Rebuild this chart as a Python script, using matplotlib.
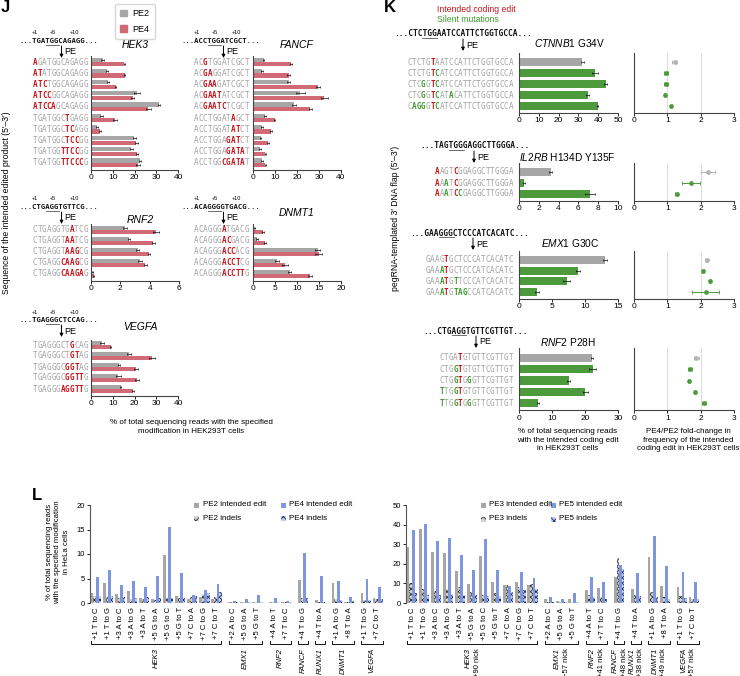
import numpy as np
import matplotlib
matplotlib.use('Agg')
import matplotlib.pyplot as plt
import matplotlib.transforms as mtransforms
from matplotlib.patches import Rectangle, FancyArrowPatch
from matplotlib.lines import Line2D

plt.rcParams['font.family'] = ['Liberation Sans', 'DejaVu Sans']
plt.rcParams['mathtext.fontset'] = 'custom'
plt.rcParams['mathtext.it'] = 'Liberation Sans:italic'
plt.rcParams['mathtext.rm'] = 'Liberation Sans'
plt.rcParams['hatch.linewidth'] = 0.6

# ---------------- panel J data ----------------
hek3_seqs = ['AGATGGCAGAGG', 'ATATGGCAGAGG', 'ATCTGGCAGAGG', 'ATCCGGCAGAGG', 'ATCCAGCAGAGG',
             'TGATGGCTGAGG', 'TGATGGCTCAGG', 'TGATGGCTCCGG', 'TGATGGTTCCGG', 'TGATGGTTCCCG']
hek3_edit = [(0, 1), (0, 2), (0, 3), (0, 4), (0, 5), (7, 8), (7, 9), (7, 10), (6, 10), (6, 11)]
hek3_pe2 = [5.3, 7.2, 7.8, 21.1, 31.4, 4.8, 2.7, 19.9, 18.6, 22.6]
hek3_pe4 = [15.4, 15.5, 11.3, 19.2, 26.4, 10.9, 4.2, 20.8, 21.1, 21.6]
hek3_pe2_err = [0.5, 0.4, 0.5, 1.2, 0.5, 0.6, 0.3, 0.8, 0.8, 0.6]
hek3_pe4_err = [0.4, 0.3, 0.3, 0.6, 1.0, 0.9, 0.3, 0.7, 0.6, 0.8]

fancf_seqs = ['ACGTGGATCGCT', 'ACGAGGATCGCT', 'ACGAAGATCGCT', 'ACGAATATCGCT', 'ACGAATCTCGCT',
              'ACCTGGATAGCT', 'ACCTGGATATCT', 'ACCTGGAGATCT', 'ACCTGGAGATAT', 'ACCTGGCGATAT']
fancf_edit = [(2, 3), (2, 4), (2, 5), (2, 6), (2, 7), (8, 9), (8, 10), (7, 10), (7, 11), (6, 11)]
fancf_pe2 = [4.8, 4.1, 16.2, 21.5, 18.5, 5.3, 4.1, 3.5, 3.2, 4.1]
fancf_pe4 = [17.3, 16.2, 29.5, 32.4, 26.0, 9.8, 8.2, 6.7, 5.6, 5.6]
fancf_pe2_err = [0.4, 0.4, 0.6, 2.0, 1.0, 0.4, 0.3, 0.3, 0.3, 0.4]
fancf_pe4_err = [0.5, 0.6, 0.8, 1.5, 0.6, 0.4, 0.4, 0.4, 0.3, 0.3]

rnf2_seqs = ['CTGAGGTGATCG', 'CTGAGGTAATCG', 'CTGAGGTAAGCG', 'CTGAGGCAAGCG', 'CTGAGGCAAGAG']
rnf2_edit = [(8, 9), (7, 9), (7, 10), (6, 10), (6, 11)]
rnf2_pe2 = [2.33, 2.6, 3.2, 3.35, 0.1]
rnf2_pe4 = [4.43, 4.25, 3.95, 3.7, 0.2]
rnf2_pe2_err = [0.15, 0.05, 0.1, 0.15, 0.03]
rnf2_pe4_err = [0.2, 0.1, 0.08, 0.1, 0.03]

dnmt1_seqs = ['ACAGGGATGACG', 'ACAGGGACGACG', 'ACAGGGACCACG', 'ACAGGGACCTCG', 'ACAGGGACCTTG']
dnmt1_edit = [(6, 7), (6, 8), (6, 9), (6, 10), (6, 11)]
dnmt1_pe2 = [0.3, 0.9, 14.7, 5.4, 8.3]
dnmt1_pe4 = [2.3, 2.8, 14.9, 7.3, 13.0]
dnmt1_pe2_err = [0.1, 0.2, 0.5, 0.5, 0.4]
dnmt1_pe4_err = [0.2, 0.2, 0.8, 0.6, 0.4]

vegfa_seqs = ['TGAGGGCTGCAG', 'TGAGGGCTGTAG', 'TGAGGGCGGTAG', 'TGAGGGCGGTTG', 'TGAGGGAGGTTG']
vegfa_edit = [(8, 9), (8, 10), (7, 10), (7, 11), (6, 11)]
vegfa_pe2 = [5.0, 17.5, 12.9, 12.6, 13.6]
vegfa_pe4 = [9.0, 27.9, 20.7, 21.0, 19.3]
vegfa_pe2_err = [0.8, 1.0, 0.5, 1.0, 0.3]
vegfa_pe4_err = [0.4, 1.3, 0.8, 0.9, 0.3]

# ---------------- panel K data ----------------
ctnnb1_seqs = ['CTCTGTAATCCATTCTGGTGCCA', 'CTCTGTCATCCATTCTGGTGCCA', 'CTCGGTCATCCATTCTGGTGCCA',
               'CTCGGTCATACATTCTGGTGCCA', 'CAGGGTCATCCATTCTGGTGCCA']
ctnnb1_mask = ['.....r', '.....rg', '...g.rg', '...g.rg..g', '.ggg.rg']
ctnnb1_vals = [32.0, 38.4, 43.8, 34.6, 39.7]
ctnnb1_err = [0.6, 1.5, 0.8, 0.9, 0.4]
ctnnb1_fold = [1.22, 0.96, 0.96, 0.93, 1.10]
ctnnb1_fold_err = [0.08, 0.07, 0.06, 0.04, 0.03]

il2rb_seqs = ['AAGTCGGAGGCTTGGGA', 'AAATCGGAGGCTTGGGA', 'AAATCCGAGGCTTGGGA']
il2rb_mask = ['r...r', 'r.g.r', 'r.g.rg']
il2rb_vals = [3.2, 0.5, 7.2]
il2rb_err = [0.15, 0.08, 0.5]
il2rb_fold = [2.22, 1.70, 1.28]
il2rb_fold_err = [0.2, 0.27, 0.04]

emx1_seqs = ['GAAGTGCTCCCATCACATC', 'GAAATGCTCCCATCACATC', 'GAAATGTTCCCATCACATC', 'GAAATGTAGCCATCACATC']
emx1_mask = ['....r', '...gr', '...gr.g', '...gr.ggg']
emx1_vals = [13.0, 8.9, 7.2, 2.7]
emx1_err = [0.3, 0.3, 0.5, 0.3]
emx1_fold = [2.18, 2.07, 2.28, 2.15]
emx1_fold_err = [0.04, 0.03, 0.04, 0.4]

rnf2k_seqs = ['CTGATGTGTTCGTTGT', 'CTGGTGTGTTCGTTGT', 'CTGGTGGGTTCGTTGT', 'TTGGTGTGTTCGTTGT', 'TTGGTGGGTTCGTTGT']
rnf2k_mask = ['....r', '...gr', '...gr.g', 'g..gr', 'g..gr.g']
rnf2k_vals = [22.1, 22.3, 15.0, 20.1, 5.8]
rnf2k_err = [0.4, 1.0, 0.6, 0.7, 0.3]
rnf2k_fold = [1.87, 1.67, 1.66, 1.83, 2.10]
rnf2k_fold_err = [0.08, 0.06, 0.03, 0.03, 0.07]

# ---------------- panel L data ----------------
l_cats = ['+1 T to C', '+1 T to G', '+3 A to C', '+3 A to G', '+3 A to T', '+5 G to A', '+5 G to C',
          '+5 G to T', '+7 C to A', '+7 C to G', '+7 C to T', '+2 A to C', '+5 G to A', '+5 G to T',
          '+4 A to T', '+7 T to C', '+4 T to G', '+4 T to A', '+1 A to G', '+8 T to A', '+1 T to G', '+7 C to T']
l_genes = ['HEK3', 'EMX1', 'RNF2', 'FANCF', 'RUNX1', 'DNMT1', 'VEGFA']
l_group_sizes = [11, 3, 2, 1, 1, 2, 2]
l_nicks = ['+90 nick', '\u221257 nick', '+41 nick', '+48 nick', '+38 nick', '+49 nick', '+57 nick']

pe2_edit = [2.1, 4.0, 1.8, 2.5, 1.1, 0.8, 9.8, 1.4, 0.9, 1.3, 0.8, 0.2, 0.2, 0.3, 0.2, 0.2, 4.7, 0.7, 4.0, 0.3, 2.0, 1.0]
pe2_indel = [1.5, 1.3, 1.0, 0.9, 0.8, 0.7, 1.0, 1.0, 1.2, 1.8, 1.2, 0.3, 0.3, 0.3, 0.2, 0.3, 1.0, 0.2, 0.8, 0.3, 0.6, 0.8]
pe4_edit = [5.3, 6.8, 3.7, 4.5, 3.2, 5.5, 15.5, 6.1, 1.6, 2.6, 3.8, 0.4, 0.8, 1.7, 1.1, 0.5, 10.3, 5.5, 4.5, 1.3, 4.9, 3.3]
pe4_indel = [1.5, 1.5, 1.2, 1.0, 1.3, 1.0, 1.0, 1.0, 1.5, 2.0, 2.3, 0.3, 0.3, 0.3, 0.2, 0.3, 1.0, 0.2, 0.6, 0.5, 0.6, 0.8]

pe3_edit = [28.7, 37.8, 25.8, 25.3, 16.1, 9.8, 24.2, 10.5, 9.0, 10.5, 9.0, 1.9, 0.8, 1.8, 6.5, 7.5, 13.5, 7.0, 23.3, 8.8, 8.0, 3.0]
pe3_indel = [10.2, 7.1, 6.3, 7.1, 8.1, 5.4, 4.2, 5.0, 9.0, 8.0, 9.5, 0.7, 0.7, 0.7, 4.0, 3.0, 23.0, 4.0, 5.5, 3.0, 3.5, 2.0]
pe5_edit = [37.0, 40.5, 31.7, 33.3, 24.5, 16.9, 32.8, 17.0, 8.5, 16.0, 13.0, 3.0, 2.2, 5.3, 13.5, 10.8, 19.5, 15.3, 34.0, 19.0, 15.7, 10.8]
pe5_indel = [5.1, 4.2, 3.9, 4.6, 4.2, 4.1, 3.4, 3.5, 5.8, 6.5, 7.3, 0.5, 0.7, 0.6, 3.0, 2.2, 17.5, 3.8, 3.0, 2.0, 2.5, 1.8]

# ---------------- style ----------------
GRAY = '#a6a6a6'
RED = '#d06a77'
BLUE = '#7e96dc'
GREEN = '#4c9a3c'
TXT_RED = '#c4161c'
TXT_GREEN = '#3f9b2e'
SEQ_GRAY = '#a3a3a3'
MONO = 'DejaVu Sans Mono'
EKW = dict(elinewidth=0.5, capsize=1, capthick=0.5, ecolor='#111111')

W, H = 740, 676
fig = plt.figure(figsize=(W / 100, H / 100), dpi=100)


def fx(px):
    return px / W


def fy(py):
    return 1 - py / H


def add_ax(l, t, r, b):
    return fig.add_axes([l / W, 1 - b / H, (r - l) / W, (b - t) / H])


def style_ax(ax, xmax, step):
    for s in ['top', 'right']:
        ax.spines[s].set_visible(False)
    for s in ['left', 'bottom']:
        ax.spines[s].set_linewidth(0.8)
        ax.spines[s].set_color('#444444')
    ax.set_xlim(0, xmax)
    ax.set_xticks(np.arange(0, xmax + 1, step))
    ax.set_yticks([])
    ax.tick_params(axis='x', labelsize=6, length=2, width=0.6, pad=1.5)


def draw_seq(ax, seq, mask, row, right_px, cw=4.6):
    trans = mtransforms.blended_transform_factory(fig.transFigure, ax.transData)
    n = len(seq)
    for k, ch in enumerate(seq):
        m = mask[k] if k < len(mask) else '.'
        color = {'r': TXT_RED, 'g': TXT_GREEN}.get(m, SEQ_GRAY)
        fig.text(fx(right_px - (n - k - 0.5) * cw), row, ch, transform=trans,
                 ha='center', va='center', family=MONO, size=cw / 0.836,
                 color=color, weight='bold' if m != '.' else 'normal')


def draw_header(core, left_px, y_px, cw, arrow_px, marks=True):
    size = cw / 0.836
    fig.text(fx(left_px - 3 * cw), fy(y_px), '...' + core + '...', family=MONO, weight='bold',
             size=size, ha='left', va='center', color='#111111')
    fig.add_artist(Line2D([fx(left_px + 3 * cw), fx(left_px + 6 * cw)], [fy(y_px + 4)] * 2,
                          transform=fig.transFigure, lw=0.6, color='#555555'))
    if marks:
        for idx, lab in [(0, '+1'), (4, '+5'), (9, '+10')]:
            fig.text(fx(left_px + (idx + 0.5) * cw), fy(y_px - 8), lab, size=4,
                     ha='center', va='center')
    fig.add_artist(FancyArrowPatch((fx(arrow_px), fy(y_px + 5)), (fx(arrow_px), fy(y_px + 17)),
                                   transform=fig.transFigure, arrowstyle='-|>', mutation_scale=5,
                                   lw=0.7, color='k', shrinkA=0, shrinkB=0))
    fig.text(fx(arrow_px + 3), fy(y_px + 11), 'PE', size=6.5, ha='left', va='center')


def j_block(l, r, row0, sp, seqs, edits, pe2, pe2_err, pe4, pe4_err, xmax, step, seq_right):
    n = len(seqs)
    ax = add_ax(l, row0 - 0.5 * sp, r, row0 + (n - 1) * sp + 0.6 * sp)
    y = np.arange(n)
    ax.barh(y - 0.2, pe2, height=0.38, color=GRAY, xerr=pe2_err, error_kw=EKW)
    ax.barh(y + 0.2, pe4, height=0.38, color=RED, xerr=pe4_err, error_kw=EKW)
    ax.set_ylim(n - 1 + 0.6, -0.5)
    style_ax(ax, xmax, step)
    for i, (s, (a, b)) in enumerate(zip(seqs, edits)):
        mask = ''.join('r' if a <= k < b else '.' for k in range(len(s)))
        draw_seq(ax, s, mask, i, seq_right)
    return ax


def k_block(row0, sp, seqs, masks, vals, errs, folds, ferrs, xmax, step):
    n = len(seqs)
    t, b = row0 - 0.85 * sp, row0 + (n - 1) * sp + 0.6 * sp
    ax = add_ax(519, t, 618, b)
    y = np.arange(n)
    ax.barh(y, vals, height=0.74, color=[GRAY] + [GREEN] * (n - 1), xerr=errs, error_kw=EKW)
    ax.set_ylim(n - 1 + 0.6, -0.85)
    style_ax(ax, xmax, step)
    for i in range(n):
        draw_seq(ax, seqs[i], masks[i], i, 513)
    fa = add_ax(634, t, 734, b)
    for v in (1, 2):
        fa.axvline(v, color='#dedede', lw=0.8, zorder=0)
    fa.errorbar(folds[:1], y[:1], xerr=ferrs[:1], fmt='o', ms=2.4, color='#b3b3b3',
                elinewidth=0.7, capsize=1.2, capthick=0.6)
    fa.errorbar(folds[1:], y[1:], xerr=ferrs[1:], fmt='o', ms=2.4, color=GREEN,
                elinewidth=0.7, capsize=1.2, capthick=0.6)
    fa.set_ylim(n - 1 + 0.6, -0.85)
    style_ax(fa, 3, 1)


def l_block(l, ymax, ystep, e1, i1, e2, i2, with_nick):
    pos = []
    x = 0.0
    groups = []
    for n in l_group_sizes:
        start = len(pos)
        for _ in range(n):
            pos.append(x)
            x += 1
        groups.append((start, len(pos) - 1))
        x += 0.4
    pos = np.array(pos)
    xmin, xmax = -0.5, pos[-1] + 0.5
    ax = add_ax(l, 505, l + (xmax - xmin) * 12.05, 603)
    w = 0.21
    ax.bar(pos - 1.5 * w, e1, w, color=GRAY)
    ax.bar(pos - 0.5 * w, i1, w, facecolor='#d4d4d4', edgecolor='#333333', hatch='xxxxxx', lw=0)
    ax.bar(pos + 0.5 * w, e2, w, color=BLUE)
    ax.bar(pos + 1.5 * w, i2, w, facecolor='#c3cdf0', edgecolor='#1f2f66', hatch='xxxxxx', lw=0)
    ax.set_xlim(xmin, xmax)
    ax.set_ylim(0, ymax)
    ax.set_yticks(np.arange(0, ymax + 1, ystep))
    ax.set_xticks(pos)
    ax.set_xticklabels(l_cats, rotation=90, fontsize=5.5)
    ax.tick_params(axis='x', length=0, pad=3)
    ax.tick_params(axis='y', labelsize=5.5, length=2.5, width=0.6, pad=1)
    for s in ['top', 'right', 'bottom']:
        ax.spines[s].set_visible(False)
    ax.spines['left'].set_linewidth(0.8)
    ax.spines['left'].set_color('#555555')
    trans = ax.get_xaxis_transform()
    for (a, b), gene, nick in zip(groups, l_genes, l_nicks):
        xs, xe = pos[a] - 0.4, pos[b] + 0.4
        ax.plot([xs, xs, xe, xe], [-0.39, -0.42, -0.42, -0.39], transform=trans,
                clip_on=False, color='#111111', lw=0.7)
        c = (pos[a] + pos[b]) / 2
        if with_nick:
            ax.text(c - 0.35, -0.46, gene, rotation=90, ha='center', va='top', style='italic',
                    fontsize=5.5, transform=trans)
            ax.text(c + 0.4, -0.46, nick, rotation=90, ha='center', va='top',
                    fontsize=5.5, transform=trans)
        else:
            ax.text(c, -0.46, gene, rotation=90, ha='center', va='top', style='italic',
                    fontsize=5.5, transform=trans)


def legend_item(x, y, label, **kw):
    fig.add_artist(Rectangle((fx(x - 2.5), fy(y + 2.5)), 5 / W, 5 / H, transform=fig.transFigure, **kw))
    fig.text(fx(x + 6), fy(y), label, size=5.8, ha='left', va='center')


# ---------------- panel J ----------------
j_block(91, 178, 62, 11.2, hek3_seqs, hek3_edit, hek3_pe2, hek3_pe2_err, hek3_pe4, hek3_pe4_err, 40, 10, 88)
j_block(253, 341, 62, 11.2, fancf_seqs, fancf_edit, fancf_pe2, fancf_pe2_err, fancf_pe4, fancf_pe4_err, 40, 10, 249)
j_block(91, 179, 230, 11, rnf2_seqs, rnf2_edit, rnf2_pe2, rnf2_pe2_err, rnf2_pe4, rnf2_pe4_err, 6, 2, 88)
j_block(253, 341, 230, 11, dnmt1_seqs, dnmt1_edit, dnmt1_pe2, dnmt1_pe2_err, dnmt1_pe4, dnmt1_pe4_err, 20, 5, 249)
j_block(91, 178, 345, 11, vegfa_seqs, vegfa_edit, vegfa_pe2, vegfa_pe2_err, vegfa_pe4, vegfa_pe4_err, 40, 10, 88)

draw_header('TGATGGCAGAGG', 33, 41, 4.4, 61.5)
draw_header('ACCTGGATCGCT', 195, 41, 4.4, 223.5)
draw_header('CTGAGGTGTTCG', 33, 207, 4.4, 61.5)
draw_header('ACAGGGGTGACG', 195, 207, 4.4, 223.5)
draw_header('TGAGGGCTCCAG', 33, 320, 4.4, 61.5)

for gene, gx, gy in [('HEK3', 135, 45), ('FANCF', 297, 45), ('RNF2', 140, 220),
                     ('DNMT1', 297, 213), ('VEGFA', 140, 327)]:
    fig.text(fx(gx), fy(gy), gene, style='italic', size=7.5, ha='center', va='center')

fig.legend(handles=[Rectangle((0, 0), 1, 1, color=GRAY), Rectangle((0, 0), 1, 1, color=RED)],
           labels=['PE2', 'PE4'], loc='upper left', bbox_to_anchor=(fx(115), fy(4)),
           fontsize=6.5, handlelength=0.7, handleheight=0.7, handletextpad=0.6,
           labelspacing=0.7, borderpad=0.6, borderaxespad=0, frameon=True,
           edgecolor='#cccccc', fancybox=True)

fig.text(fx(7), fy(203), 'Sequence of the intended edited product (5\u2032\u20133\u2032)', rotation=90,
         size=6.2, ha='center', va='center')
fig.text(fx(191), fy(419), '% of total sequencing reads with the specified\nmodification in HEK293T cells',
         size=5.8, ha='center', va='top', linespacing=1.35)

# ---------------- panel K ----------------
k_block(62, 11, ctnnb1_seqs, ctnnb1_mask, ctnnb1_vals, ctnnb1_err, ctnnb1_fold, ctnnb1_fold_err, 50, 10)
k_block(172, 11, il2rb_seqs, il2rb_mask, il2rb_vals, il2rb_err, il2rb_fold, il2rb_fold_err, 10, 2)
k_block(260, 10.7, emx1_seqs, emx1_mask, emx1_vals, emx1_err, emx1_fold, emx1_fold_err, 15, 5)
k_block(358, 11.25, rnf2k_seqs, rnf2k_mask, rnf2k_vals, rnf2k_err, rnf2k_fold, rnf2k_fold_err, 30, 10)

draw_header('CTCTGGAATCCATTCTGGTGCCA', 408, 34, 4.75, 463, marks=False)
draw_header('TAGTGGGAGGCTTGGGA', 435, 146, 4.75, 474, marks=False)
draw_header('GAAGGGCTCCCATCACATC', 425, 233, 4.75, 473, marks=False)
draw_header('CTGAGGTGTTCGTTGT', 438, 331, 4.75, 476, marks=False)

for lab, gx, gy in [(r'$\mathit{CTNNB1}$ G34V', 570, 43), (r'$\mathit{IL2RB}$ H134D Y135F', 567, 157),
                    (r'$\mathit{EMX1}$ G30C', 570, 243), (r'$\mathit{RNF2}$ P28H', 568, 342)]:
    fig.text(fx(gx), fy(gy), lab, size=7.3, ha='center', va='center')

fig.text(fx(437), fy(9), 'Intended coding edit', color=TXT_RED, size=6.2, ha='left', va='center')
fig.text(fx(437), fy(19), 'Silent mutations', color=TXT_GREEN, size=6.2, ha='left', va='center')
fig.text(fx(396), fy(218), 'pegRNA-templated 3\u2032 DNA flap (5\u2032\u20133\u2032)', rotation=90,
         size=6.2, ha='center', va='center')
fig.text(fx(568), fy(428), '% of total sequencing reads\nwith the intended coding edit\nin HEK293T cells',
         size=5.8, ha='center', va='top', linespacing=1.3)
fig.text(fx(688), fy(428), 'PE4/PE2 fold-change in\nfrequency of the intended\ncoding edit in HEK293T cells',
         size=5.8, ha='center', va='top', linespacing=1.3)

# ---------------- panel L ----------------
l_block(90, 20, 5, pe2_edit, pe2_indel, pe4_edit, pe4_indel, False)
l_block(406, 50, 10, pe3_edit, pe3_indel, pe5_edit, pe5_indel, True)

fig.text(fx(58), fy(552), '% of total sequencing reads\nwith the specified modification\nin HeLa cells',
         rotation=90, size=5.6, ha='center', va='center', linespacing=1.25)

hatch_gray = dict(facecolor='#d4d4d4', edgecolor='#333333', hatch='xxxx', lw=0)
hatch_blue = dict(facecolor='#c3cdf0', edgecolor='#1f2f66', hatch='xxxx', lw=0)
legend_item(197, 505, 'PE2 intended edit', facecolor=GRAY, lw=0)
legend_item(283, 505, 'PE4 intended edit', facecolor=BLUE, lw=0)
legend_item(197, 518, 'PE2 indels', **hatch_gray)
legend_item(283, 518, 'PE4 indels', **hatch_blue)
legend_item(483, 505, 'PE3 intended edit', facecolor=GRAY, lw=0)
legend_item(553, 505, 'PE5 intended edit', facecolor=BLUE, lw=0)
legend_item(483, 519, 'PE3 indels', **hatch_gray)
legend_item(553, 519, 'PE5 indels', **hatch_blue)

# panel letters
fig.text(fx(1), fy(0), 'J', size=12, weight='bold', ha='left', va='top')
fig.text(fx(384), fy(0), 'K', size=12, weight='bold', ha='left', va='top')
fig.text(fx(32), fy(488), 'L', size=12, weight='bold', ha='left', va='top')

fig.savefig('out.png', dpi=100)
